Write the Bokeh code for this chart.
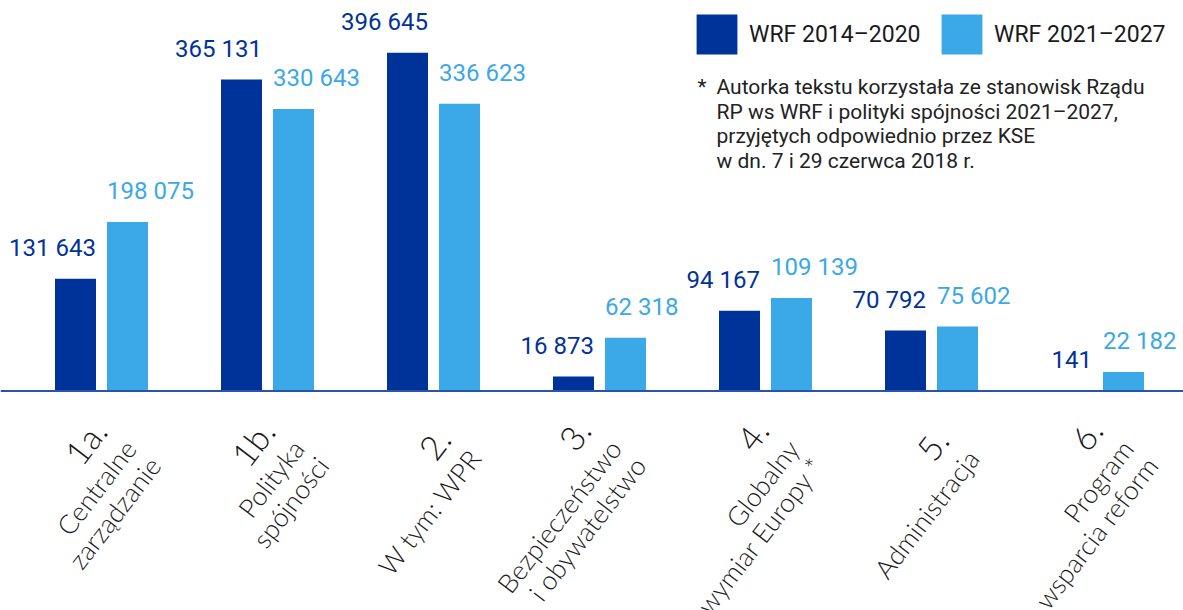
import math
from bokeh.plotting import figure
from bokeh.models import (ColumnDataSource, LabelSet, Label, Span, Legend,
                          LegendItem, Range1d)
from bokeh.transform import dodge
from bokeh.embed import file_html
from bokeh.resources import INLINE
from bokeh.core.properties import value

# ---------------- data ----------------
category_numbers = ["1a.", "1b.", "2.", "3.", "4.", "5.", "6."]
category_names = [
    ["Centralne", "zarządzanie"],
    ["Polityka", "spójności"],
    ["W tym: WPR"],
    ["Bezpieczeństwo", "i obywatelstwo"],
    ["Globalny", "wymiar Europy *"],
    ["Administracja"],
    ["Program", "wsparcia reform"],
]
wrf_2014_2020 = [131643, 365131, 396645, 16873, 94167, 70792, 141]
wrf_2021_2027 = [198075, 330643, 336623, 62318, 109139, 75602, 22182]
series_names = ["WRF 2014–2020", "WRF 2021–2027"]
note_lines = [
    "Autorka tekstu korzystała ze stanowisk Rządu",
    "RP ws WRF i polityki spójności 2021–2027,",
    "przyjętych odpowiednio przez KSE",
    "w dn. 7 i 29 czerwca 2018 r.",
]

# ---------------- style ----------------
DARK = "#003399"
LIGHT = "#3BA8E8"
BASE = "#2a55a6"
TXT = "#1a1a1a"

W, H = 1183, 610
GROUP_PX = 166.0
PX_PER_UNIT = 0.000853
BASE_Y = 390.5          # px from top of zero line
X0_PX = 101.0           # px of first group centre

x_start = -X0_PX / GROUP_PX
x_end = x_start + W / GROUP_PX
y_end = BASE_Y / PX_PER_UNIT
y_start = -(H - BASE_Y) / PX_PER_UNIT

p = figure(width=W, height=H, x_range=Range1d(x_start, x_end),
           y_range=Range1d(y_start, y_end), output_backend="svg",
           toolbar_location=None, min_border=0, x_axis_location=None,
           y_axis_location=None, outline_line_color=None,
           background_fill_color="white", border_fill_color="white")
p.xgrid.visible = False
p.ygrid.visible = False

def fmt(v):
    return f"{v:,}".replace(",", " ")

src = ColumnDataSource(dict(
    x=list(range(len(category_numbers))),
    a=wrf_2014_2020,
    b=wrf_2021_2027,
    la=[fmt(v) for v in wrf_2014_2020],
    lb=[fmt(v) for v in wrf_2021_2027],
))

OFF = 26 / GROUP_PX
BW = 41 / GROUP_PX

r1 = p.vbar(x=dodge("x", -OFF), top="a", bottom=0, width=BW, source=src,
            fill_color=DARK, line_color=None)
r2 = p.vbar(x=dodge("x", OFF), top="b", bottom=0, width=BW, source=src,
            fill_color=LIGHT, line_color=None)

p.add_layout(Span(location=0, dimension="width", line_color=BASE, line_width=2))

p.add_layout(LabelSet(x=dodge("x", -OFF + BW / 2), y="a", text="la", source=src,
                      y_offset=23, text_align="right", text_baseline="alphabetic",
                      text_font=value("Roboto"), text_font_size="24px",
                      text_color=DARK))
p.add_layout(LabelSet(x=dodge("x", OFF - BW / 2), y="b", text="lb", source=src,
                      y_offset=23, text_align="left", text_baseline="alphabetic",
                      text_font=value("Roboto"), text_font_size="24px",
                      text_color=LIGHT))

# ---------------- legend (one per series, placed independently) ----------------
for r, name, lx in [(r1, series_names[0], 691), (r2, series_names[1], 936)]:
    lg = Legend(items=[LegendItem(label=name, renderers=[r])],
                orientation="horizontal", location=(lx, H - 59),
                glyph_width=51, glyph_height=50, label_standoff=7,
                padding=0, margin=0, border_line_color=None,
                background_fill_alpha=0, label_text_font="Roboto",
                label_text_font_size="23px", label_text_color=TXT)
    p.add_layout(lg)

# ---------------- note ----------------
note_base = [86.5, 111.0, 135.5, 160.0]
p.add_layout(Label(x=697, y=H - note_base[0], x_units="screen", y_units="screen",
                   text="*", text_font="Roboto", text_font_size="21px",
                   text_color="#222222", text_baseline="alphabetic"))
for line, b in zip(note_lines, note_base):
    p.add_layout(Label(x=716, y=H - b, x_units="screen", y_units="screen",
                       text=line, text_font="Roboto", text_font_size="21px",
                       text_color="#222222", text_baseline="alphabetic"))

# ---------------- category labels ----------------
# right-end (middle) anchor of the big number, relative to group centre / zero line (px)
big_anchor = [(-3, 33.5), (-1, 33.5), (10, 42.5), (-16, 33.5), (-4, 33.5), (10, 43.5), (-2, 33.5)]
line_shift = [(31.7, 19.0), (56.2, 36.0)]   # right-end of small lines, relative to big anchor
ang = math.radians(52.5)
for i, (num, names) in enumerate(zip(category_numbers, category_names)):
    dx, dy = big_anchor[i]
    p.add_layout(Label(x=i, y=0, x_offset=dx, y_offset=-dy, text=num,
                       angle=ang, text_align="right", text_baseline="middle",
                       text_font="Lato Light", text_font_size="34px", text_color=TXT))
    for k, name in enumerate(names):
        sx, sy = line_shift[k]
        p.add_layout(Label(x=i, y=0, x_offset=dx + sx, y_offset=-(dy + sy), text=name,
                           angle=ang, text_align="right", text_baseline="middle",
                           text_font="Lato Light", text_font_size="26.5px",
                           text_color=TXT))

open("out.html", "w").write(file_html(p, INLINE))
